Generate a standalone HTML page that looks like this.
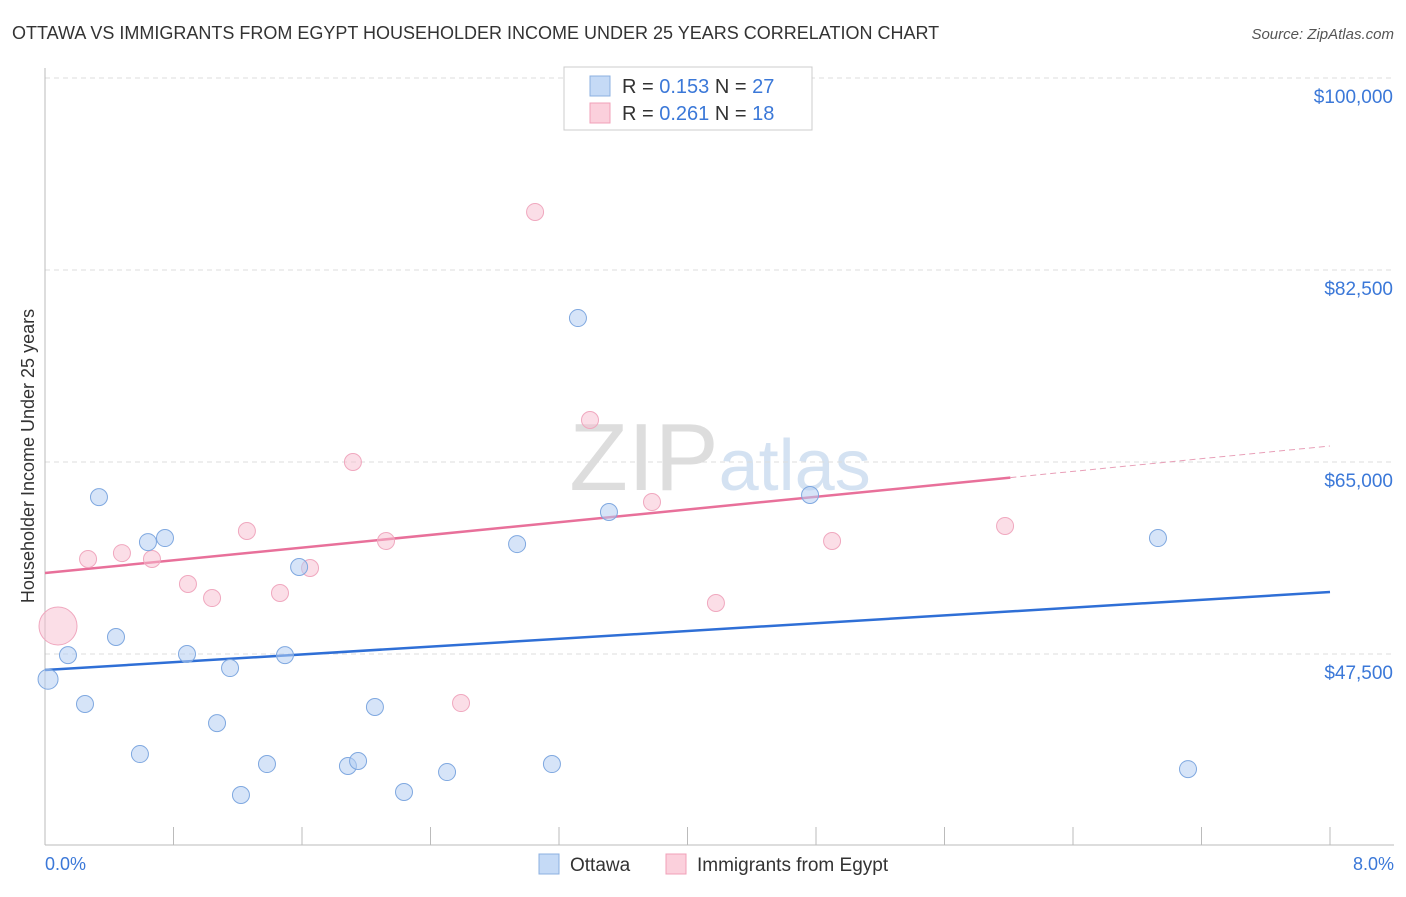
<!DOCTYPE html>
<html><head><meta charset="utf-8"><style>
body{margin:0;background:#fff;font-family:"Liberation Sans",sans-serif;}
svg text{font-family:"Liberation Sans",sans-serif;}
</style></head><body>
<svg id="chart" width="1406" height="892" viewBox="0 0 1406 892" xmlns="http://www.w3.org/2000/svg">
<text x="12" y="39" font-size="18" fill="#333">OTTAWA VS IMMIGRANTS FROM EGYPT HOUSEHOLDER INCOME UNDER 25 YEARS CORRELATION CHART</text>
<text x="1394" y="39" font-size="15" fill="#555" text-anchor="end" font-style="italic">Source: ZipAtlas.com</text>
<text x="720" y="490" font-size="96" text-anchor="middle" fill="#e4e4e4" font-family="Liberation Serif"><tspan fill="#dddddd">ZIP</tspan><tspan fill="#d4e2f2" font-family="Liberation Sans" font-size="72">atlas</tspan></text>
<g id="grid"></g>
<line x1="45" y1="68" x2="45" y2="845" stroke="#bbb"/>
<line x1="45" y1="845" x2="1394" y2="845" stroke="#bbb"/>
<g id="xticks"></g>
<text transform="translate(34,456) rotate(-90)" font-size="18" fill="#333" text-anchor="middle">Householder Income Under 25 years</text>
<text x="45" y="870" font-size="18" fill="#3b78d8">0.0%</text>
<text x="1394" y="870" font-size="18" fill="#3b78d8" text-anchor="end">8.0%</text>
<g id="lines"></g>
<g id="points"></g>
<g>
<rect x="564" y="67" width="248" height="63" fill="#fff" stroke="#ccc"/>
<rect x="590" y="76" width="20" height="20" fill="#c5daf6" stroke="#8cb0e0"/>
<rect x="590" y="103" width="20" height="20" fill="#fbd0dc" stroke="#f0a0b8"/>
<text x="622" y="93" font-size="20" fill="#333">R = <tspan fill="#3b78d8">0.153</tspan>   N = <tspan fill="#3b78d8">27</tspan></text>
<text x="622" y="120" font-size="20" fill="#333">R = <tspan fill="#3b78d8">0.261</tspan>   N =  <tspan fill="#3b78d8">18</tspan></text>
</g>
<g>
<rect x="539" y="854" width="20" height="20" fill="#c5daf6" stroke="#8cb0e0"/>
<text x="570" y="871" font-size="19" fill="#333">Ottawa</text>
<rect x="666" y="854" width="20" height="20" fill="#fbd0dc" stroke="#f0a0b8"/>
<text x="697" y="871" font-size="19" fill="#333">Immigrants from Egypt</text>
</g>
</svg>
<script>
const yTicks=[47500,65000,82500,100000];
const yTickLabels=["$47,500","$65,000","$82,500","$100,000"];
const ottawaX=[0.019,0.143,0.249,0.336,0.442,0.591,0.641,0.747,0.884,1.071,1.152,1.220,1.382,1.494,1.582,1.886,1.949,2.054,2.235,2.503,2.939,3.156,3.318,3.511,4.763,6.929,7.116];
const ottawaY=[45200,47400,42940,61800,49050,38380,57700,58070,47500,41200,46220,34650,37470,47400,55430,37290,37750,42670,34920,36740,57520,37470,78120,60440,61990,58070,37010];
const egyptX=[0.081,0.268,0.479,0.666,0.890,1.040,1.257,1.463,1.650,1.917,2.123,2.590,3.051,3.393,3.779,4.177,4.900,5.977];
const egyptY=[50050,56160,56700,56160,53880,52600,58710,53060,55340,65000,57800,43030,87790,68830,61350,52150,57800,59170];
const ottawaTrend=[46040,53150];
const egyptTrend=[54880,66460];
const egyptSolidEnd=6.01;
const NS="http://www.w3.org/2000/svg";
const xs=v=>45+v/8*1285;
const ys=v=>78+(100000-v)/17500*192;
function mk(t,a,p){const e=document.createElementNS(NS,t);for(const k in a)e.setAttribute(k,a[k]);p.appendChild(e);return e;}
const grid=document.getElementById('grid');
yTicks.forEach((v,i)=>{
 const l=mk('line',{x1:45,x2:1394,y1:ys(v),y2:ys(v),stroke:'#ddd','stroke-dasharray':'5,4'},grid);
 
 
 const t=mk('text',{x:1393,y:ys(v)+25,'font-size':19,fill:'#3b78d8','text-anchor':'end'},grid);
 t.textContent=yTickLabels[i];
 
 
});
const xt=document.getElementById('xticks');
for(let i=1;i<=10;i++){
 const l=mk('line',{x1:xs(i*0.8),x2:xs(i*0.8),y1:827,y2:845,stroke:'#bbb'},xt);
 
 
}
const lines=document.getElementById('lines');
let l1=mk('line',{x1:xs(0),y1:ys(ottawaTrend[0]),x2:xs(8),y2:ys(ottawaTrend[1]),stroke:'#2f6fd6','stroke-width':2.5},lines);


const ey=x=>egyptTrend[0]+(egyptTrend[1]-egyptTrend[0])*x/8;
let l2=mk('line',{x1:xs(0),y1:ys(ey(0)),x2:xs(egyptSolidEnd),y2:ys(ey(egyptSolidEnd)),stroke:'#e8709a','stroke-width':2.5},lines);


let l3=mk('line',{x1:xs(egyptSolidEnd),y1:ys(ey(egyptSolidEnd)),x2:xs(8),y2:ys(ey(8)),stroke:'#e8a0b8','stroke-width':1,'stroke-dasharray':'6,4'},lines);


const pts=document.getElementById('points');
egyptX.forEach((x,i)=>{
 const c=mk('circle',{cx:xs(x),cy:ys(egyptY[i]),r:i===0?19:8.5,fill:'rgba(248,190,208,0.5)',stroke:'#f0a8bf','stroke-width':1},pts);
 
 
});
ottawaX.forEach((x,i)=>{
 const c=mk('circle',{cx:xs(x),cy:ys(ottawaY[i]),r:i===0?10:8.5,fill:'rgba(180,205,242,0.55)',stroke:'#7fa8e0','stroke-width':1},pts);
 
 
});
</script>
</body></html>
